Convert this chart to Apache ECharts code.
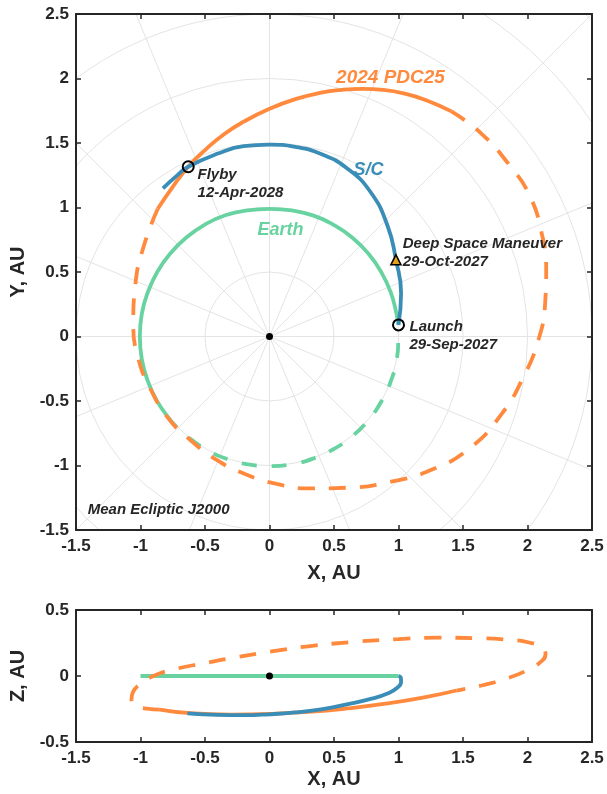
<!DOCTYPE html>
<html><head><meta charset="utf-8">
<script src="https://cdn.jsdelivr.net/npm/echarts@6/dist/echarts.min.js"></script>
<style>html,body{margin:0;padding:0;background:#fff}#c{width:607px;height:794px}</style>
</head><body><div id="c"></div>
<script>
// ---------- data (AU) ----------
const earthSolidXY = [[1.0,0.09],[0.985,0.174],[0.94,0.342],[0.866,0.5],[0.766,0.643],[0.643,0.766],[0.5,0.864],[0.342,0.937],[0.173,0.977],[0.0,0.99],[-0.173,0.978],[-0.343,0.94],[-0.501,0.868],[-0.645,0.768],[-0.768,0.645],[-0.869,0.502],[-0.943,0.343],[-0.99,0.175],[-1.005,0.0],[-0.99,-0.175],[-0.944,-0.344],[-0.87,-0.503],[-0.77,-0.646],[-0.72,-0.70]];
const earthDashXY = [[0.998,-0.05],[0.987,-0.174],[0.942,-0.343],[0.868,-0.502],[0.768,-0.646],[0.645,-0.77],[0.502,-0.87],[0.344,-0.944],[0.175,-0.99],[0.0,-1.005],[-0.175,-0.99],[-0.344,-0.944],[-0.502,-0.869],[-0.645,-0.769],[-0.72,-0.70]];
const pdcSolidXY = [[-0.866,0.99],[-0.75,1.16],[-0.63,1.316],[-0.5,1.445],[-0.35,1.57],[-0.2,1.665],[0.0,1.765],[0.2,1.84],[0.4,1.89],[0.56,1.912],[0.72,1.92],[0.88,1.912],[1.04,1.885],[1.22,1.83],[1.41,1.745]];
const pdcDashXY = [[-0.866,0.99],[-0.975,0.7],[-1.04,0.4],[-1.056,0.1],[-1.02,-0.16],[-0.926,-0.40],[-0.784,-0.634],[-0.616,-0.80],[-0.41,-0.957],[-0.19,-1.066],[0.056,-1.143],[0.3,-1.178],[0.6,-1.172],[0.944,-1.125],[1.265,-1.03],[1.56,-0.86],[1.80,-0.6],[1.962,-0.327],[2.083,-0.032],[2.137,0.263],[2.145,0.53],[2.11,0.80],[2.016,1.094],[1.855,1.335],[1.64,1.575],[1.41,1.745]];
const scXY = [[1.0,0.09],[1.02,0.335],[0.98,0.595],[0.917,0.853],[0.783,1.12],[0.595,1.308],[0.4,1.415],[0.2,1.47],[0.0,1.487],[-0.2,1.475],[-0.4,1.418],[-0.63,1.316],[-0.72,1.245],[-0.826,1.149]];
const launchXY = [1.0, 0.09];
const dsmXY = [0.98, 0.595];
const flybyXY = [-0.63, 1.316];
const sunXY = [0, 0];

const earthXZ = [[-1.0,0.0],[1.0,0.0]];
const pdcSolidXZ = [[-0.85,-0.255],[-0.64,-0.28],[-0.3,-0.292],[0.0,-0.287],[0.3,-0.272],[0.6,-0.246],[0.9,-0.21],[1.2,-0.162],[1.45,-0.11]];
const pdcDashXZ = [[-0.85,-0.255],[-0.95,-0.248],[-1.03,-0.225],[-1.07,-0.18],[-1.06,-0.125],[-1.0,-0.06],[-0.9,0.0],[-0.75,0.048],[-0.5,0.098],[-0.25,0.143],[0.0,0.183],[0.3,0.225],[0.65,0.258],[1.0,0.28],[1.3,0.29],[1.6,0.287],[1.85,0.275],[2.02,0.252],[2.11,0.215],[2.14,0.165],[2.1,0.105],[2.0,0.045],[1.85,-0.015],[1.65,-0.07],[1.45,-0.11]];
const scXZ = [[-0.636,-0.283],[-0.4,-0.295],[-0.2,-0.297],[0.0,-0.29],[0.2,-0.276],[0.4,-0.252],[0.6,-0.215],[0.8,-0.17],[0.92,-0.13],[0.985,-0.093],[1.02,-0.045],[1.018,-0.012],[1.0,0.0]];
const sunXZ = [0, 0];

const xRange = [-1.5, 2.5];
const yRangeTop = [-1.5, 2.5];
const zRange = [-0.5, 0.5];
const tickStep = 0.5;

// annotation anchors (data units, left edge / vertical middle)
const labelPDC = {text:'2024 PDC25', at:[0.52, 2.0]};
const labelSC = {text:'S/C', at:[0.655, 1.29]};
const labelEarth = {text:'Earth', at:[-0.09, 0.818]};
const labelFlyby = {text:'Flyby\n12-Apr-2028', at:[-0.554, 1.182]};
const labelDSM = {text:'Deep Space Maneuver\n29-Oct-2027', at:[1.037, 0.647]};
const labelLaunch = {text:'Launch\n29-Sep-2027', at:[1.089, 0.004]};
const labelFrame = {text:'Mean Ecliptic J2000', at:[-1.405, -1.345]};

// ---------- style ----------
const FONT = '"Liberation Sans", Arial, Helvetica, sans-serif';
const INK = '#262626';
const ORANGE = '#FF8A3D';
const BLUE = '#3A8DB6';
const GREEN = '#68D3A0';
const GRIDC = '#E4E4E4';

function xAx(grid, pos, labels, name, gap) {
  return {
    gridIndex: grid, type: 'value', position: pos, min: xRange[0], max: xRange[1], interval: tickStep,
    axisLine: {onZero: false, lineStyle: {color: INK, width: 2}},
    axisTick: {inside: true, length: 5, lineStyle: {color: INK, width: 1.5}},
    axisLabel: {show: labels, color: INK, fontSize: 17, fontWeight: 'bold', fontFamily: FONT, margin: 8},
    splitLine: {show: false},
    name: name, nameLocation: 'middle', nameGap: gap,
    nameTextStyle: {color: INK, fontSize: 20, fontWeight: 'bold', fontFamily: FONT},
    z: 5
  };
}
function yAx(grid, pos, labels, range, name, gap) {
  return {
    gridIndex: grid, type: 'value', position: pos, min: range[0], max: range[1], interval: tickStep,
    axisLine: {onZero: false, lineStyle: {color: INK, width: 2}},
    axisTick: {inside: true, length: 5, lineStyle: {color: INK, width: 1.5}},
    axisLabel: {show: labels, color: INK, fontSize: 17, fontWeight: 'bold', fontFamily: FONT, margin: 7},
    splitLine: {show: false},
    name: name, nameLocation: 'middle', nameGap: gap, nameRotate: 90,
    nameTextStyle: {color: INK, fontSize: 20, fontWeight: 'bold', fontFamily: FONT},
    z: 5
  };
}
function line(data, xi, color, dash, z) {
  return {
    type: 'line', xAxisIndex: xi, yAxisIndex: xi, data: data, showSymbol: false, symbol: 'none',
    smooth: 0.5, lineStyle: {color: color, width: 3.8, type: dash || 'solid', cap: 'butt'},
    z: z || 10, silent: true, animation: false
  };
}
function marker(pt, sym, size, fill, bw, xi) {
  return {
    type: 'scatter', xAxisIndex: xi || 0, yAxisIndex: xi || 0, data: [pt], symbol: sym, symbolSize: size,
    itemStyle: {color: fill, borderColor: '#000', borderWidth: bw, opacity: 1}, z: 15, silent: true, animation: false
  };
}
function textAt(lbl, color, size, xi) {
  return {
    type: 'scatter', xAxisIndex: xi || 0, yAxisIndex: xi || 0, data: [lbl.at], symbolSize: 1,
    itemStyle: {color: 'rgba(0,0,0,0)', opacity: 1},
    label: {show: true, formatter: lbl.text, position: [0, 0], align: 'left', verticalAlign: 'middle',
      color: color, opacity: 1, fontSize: size, fontWeight: 'bold', fontStyle: 'italic', fontFamily: FONT, lineHeight: Math.round(size * 1.2)},
    z: 20, silent: true, animation: false
  };
}

const chart = echarts.init(document.getElementById('c'), null, {renderer: 'canvas'});
chart.setOption({
  animation: false,
  backgroundColor: '#fff',
  grid: [
    {left: 76, top: 14, width: 516, height: 516},
    {left: 76, top: 610, width: 516, height: 132}
  ],
  polar: {center: [269.5, 336.5], radius: 516},
  angleAxis: {type: 'value', min: 0, max: 360, interval: 22.5, z: 0,
    axisLine: {show: false}, axisTick: {show: false}, axisLabel: {show: false},
    splitLine: {show: true, lineStyle: {color: GRIDC, width: 1}}},
  radiusAxis: {type: 'value', min: 0, max: 4, interval: 0.5, z: 0,
    axisLine: {show: false}, axisTick: {show: false}, axisLabel: {show: false},
    splitLine: {show: true, lineStyle: {color: GRIDC, width: 1}}},
  graphic: [
    {type: 'rect', shape: {x: 0, y: 0, width: 607, height: 14}, style: {fill: '#fff'}, z: 1, silent: true},
    {type: 'rect', shape: {x: 0, y: 0, width: 76, height: 794}, style: {fill: '#fff'}, z: 1, silent: true},
    {type: 'rect', shape: {x: 592, y: 0, width: 15, height: 794}, style: {fill: '#fff'}, z: 1, silent: true},
    {type: 'rect', shape: {x: 0, y: 530, width: 607, height: 264}, style: {fill: '#fff'}, z: 1, silent: true}
  ],
  xAxis: [
    xAx(0, 'bottom', true, 'X, AU', 33),
    xAx(0, 'top', false, '', 0),
    xAx(1, 'bottom', true, 'X, AU', 27),
    xAx(1, 'top', false, '', 0)
  ],
  yAxis: [
    yAx(0, 'left', true, yRangeTop, 'Y, AU', 46),
    yAx(0, 'right', false, yRangeTop, '', 0),
    yAx(1, 'left', true, zRange, 'Z, AU', 45),
    yAx(1, 'right', false, zRange, '', 0)
  ],
  series: [
    line(earthDashXY, 0, GREEN, [15, 15], 10),
    line(earthSolidXY, 0, GREEN, 'solid', 10),
    line(pdcDashXY, 0, ORANGE, [17, 14], 11),
    line(pdcSolidXY, 0, ORANGE, 'solid', 11),
    line(scXY, 0, BLUE, 'solid', 12),
    marker(sunXY, 'circle', 7, '#000', 0),
    marker(launchXY, 'circle', 11, 'rgba(255,255,255,0)', 2),
    marker(flybyXY, 'circle', 11, 'rgba(255,255,255,0)', 2),
    marker(dsmXY, 'triangle', 10, '#E3A21A', 1.6),
    textAt(labelPDC, ORANGE, 19),
    textAt(labelSC, BLUE, 18),
    textAt(labelEarth, GREEN, 18),
    textAt(labelFlyby, INK, 15),
    textAt(labelDSM, INK, 15),
    textAt(labelLaunch, INK, 15),
    textAt(labelFrame, INK, 15),
    line(earthXZ, 2, GREEN, 'solid', 10),
    line(pdcDashXZ, 2, ORANGE, [17, 14], 11),
    line(pdcSolidXZ, 2, ORANGE, 'solid', 11),
    line(scXZ, 2, BLUE, 'solid', 12),
    marker(sunXZ, 'circle', 7, '#000', 0, 2)
  ]
});
</script>
</body></html>
